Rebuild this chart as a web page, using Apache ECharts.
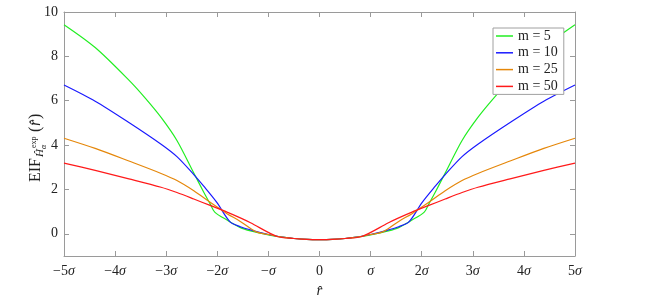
<!DOCTYPE html>
<html>
<head>
<meta charset="utf-8">
<script src="https://cdn.jsdelivr.net/npm/echarts@6/dist/echarts.min.js"></script>
<style>
  html, body { margin: 0; padding: 0; background: #fff; }
  #chart { width: 664px; height: 304px; }
</style>
</head>
<body>
<div id="chart"></div>
<script>
// tick labels
const xTickLabels = ['−5σ', '−4σ', '−3σ', '−2σ', '−σ', '0', 'σ', '2σ', '3σ', '4σ', '5σ']
const yTickValues = [0, 2, 4, 6, 8, 10]
const seriesNames = ['m = 5', 'm = 10', 'm = 25', 'm = 50']

// m = 5
const xM5 = [-5, -4.39, -3.73, -3.41, -3.1, -2.79, -2.46, -2.27, -2.14, -2.05, -1.81, -1.55, -1.35, -1, -0.8, -0.5, -0.25, 0,
  0.25, 0.5, 0.8, 1, 1.35, 1.55, 1.81, 2.05, 2.14, 2.27, 2.46, 2.79, 3.1, 3.41, 3.73, 4.39, 5]
const yM5 = [9.43, 8.40, 6.93, 6.12, 5.25, 4.21, 2.74, 1.90, 1.35, 0.98, 0.62, 0.28, 0.13, -0.05, -0.13, -0.21, -0.25, -0.26,
  -0.25, -0.21, -0.13, -0.05, 0.13, 0.28, 0.62, 0.98, 1.35, 1.90, 2.74, 4.21, 5.25, 6.12, 6.93, 8.40, 9.43]

// m = 10
const xM10 = [-5, -4.39, -3.73, -3.1, -2.79, -2.46, -2.27, -2.01, -1.75, -1.55, -1.35, -1, -0.8, -0.5, -0.25, 0,
  0.25, 0.5, 0.8, 1, 1.35, 1.55, 1.75, 2.01, 2.27, 2.46, 2.79, 3.1, 3.73, 4.39, 5]
const yM10 = [6.71, 5.98, 5.02, 4.04, 3.48, 2.67, 2.16, 1.42, 0.54, 0.32, 0.18, -0.03, -0.12, -0.21, -0.25, -0.26,
  -0.25, -0.21, -0.12, -0.03, 0.18, 0.32, 0.54, 1.42, 2.16, 2.67, 3.48, 4.04, 5.02, 5.98, 6.71]

// m = 25
const xM25 = [-5, -4.39, -3.73, -3.1, -2.79, -2.46, -2.14, -1.81, -1.55, -1.25, -1, -0.8, -0.5, -0.25, 0,
  0.25, 0.5, 0.8, 1, 1.25, 1.55, 1.81, 2.14, 2.46, 2.79, 3.1, 3.73, 4.39, 5]
const yM25 = [4.31, 3.85, 3.28, 2.72, 2.40, 1.94, 1.42, 0.91, 0.56, 0.10, -0.03, -0.12, -0.21, -0.25, -0.26,
  -0.25, -0.21, -0.12, -0.03, 0.10, 0.56, 0.91, 1.42, 1.94, 2.40, 2.72, 3.28, 3.85, 4.31]

// m = 50
const xM50 = [-5, -4.39, -3.73, -3.1, -2.79, -2.46, -2.14, -1.81, -1.55, -1.35, -0.83, -0.5, -0.25, 0,
  0.25, 0.5, 0.83, 1.35, 1.55, 1.81, 2.14, 2.46, 2.79, 3.1, 3.73, 4.39, 5]
const yM50 = [3.19, 2.86, 2.48, 2.10, 1.86, 1.57, 1.28, 0.98, 0.72, 0.50, -0.12, -0.21, -0.25, -0.26,
  -0.25, -0.21, -0.12, 0.50, 0.72, 0.98, 1.28, 1.57, 1.86, 2.10, 2.48, 2.86, 3.19]

const colors = ['#22ee22', '#1a1aff', '#e5870a', '#ff1a1a']
const font = 'Liberation Serif'
const axisGray = '#9a9a9a'

function pairs(xs, ys) {
  return xs.map((x, i) => [x, ys[i]])
}

function xLabel(v) {
  const t = xTickLabels[Math.round(v) + 5]
  if (t === undefined) return ''
  const num = t.replace('σ', '')
  return (num ? '{n|' + num + '}' : '') + (t.indexOf('σ') >= 0 ? '{s|σ}' : '')
}

const chart = echarts.init(document.getElementById('chart'), null, { renderer: 'canvas' })

const baseX = {
  type: 'value',
  min: -5,
  max: 5,
  interval: 1,
  splitLine: { show: false },
  axisLine: { onZero: false, lineStyle: { color: axisGray, width: 1 } },
  axisTick: { inside: true, length: 5, lineStyle: { color: axisGray } }
}
const baseY = {
  type: 'value',
  min: -1,
  max: 10,
  interval: 1,
  splitLine: { show: false },
  axisLine: { show: true, onZero: false, lineStyle: { color: axisGray, width: 1 } },
  axisTick: { show: true, inside: true, length: 5, customValues: yTickValues, lineStyle: { color: axisGray } }
}

const lists = [[xM5, yM5], [xM10, yM10], [xM25, yM25], [xM50, yM50]]

chart.setOption({
  animation: false,
  grid: { left: 64, right: 89, top: 12, bottom: 42 },
  xAxis: [
    Object.assign({}, baseX, {
      position: 'bottom',
      name: 'r\u0302',
      nameLocation: 'middle',
      nameGap: 28,
      nameTextStyle: { fontFamily: font, fontStyle: 'italic', fontSize: 15, color: '#222' },
      axisLabel: {
        margin: 8,
        formatter: xLabel,
        rich: {
          n: { fontFamily: font, fontSize: 14, color: '#222' },
          s: { fontFamily: font, fontSize: 14, fontStyle: 'italic', color: '#222' }
        }
      }
    }),
    Object.assign({}, baseX, { position: 'top', axisLabel: { show: false } })
  ],
  yAxis: [
    Object.assign({}, baseY, {
      position: 'left',
      axisLabel: {
        customValues: yTickValues,
        margin: 6,
        fontFamily: font,
        fontSize: 14,
        color: '#222'
      }
    }),
    Object.assign({}, baseY, { position: 'right', axisLabel: { show: false } })
  ],
  legend: {
    orient: 'vertical',
    left: 493,
    top: 28,
    icon: 'rect',
    itemWidth: 17,
    itemHeight: 1.5,
    itemGap: 2.8,
    padding: [1, 6, 1, 3],
    backgroundColor: '#fff',
    borderColor: '#a0a0a0',
    borderWidth: 1,
    borderRadius: 0,
    textStyle: { fontFamily: font, fontSize: 14, color: '#222', lineHeight: 14 },
    data: seriesNames
  },
  graphic: [{
    type: 'group',
    x: 40,
    y: 145,
    rotation: Math.PI / 2,
    children: [
      { type: 'text', x: -37, y: 4, style: { text: 'EIF', font: '16px "Liberation Serif"', fill: '#222', textVerticalAlign: 'bottom' } },
      { type: 'text', x: -12, y: 6, style: { text: 'Ĥ', font: 'italic 11px "Liberation Serif"', fill: '#222', textVerticalAlign: 'bottom' } },
      { type: 'text', x: -4, y: 8, style: { text: 'α', font: 'italic 8px "Liberation Serif"', fill: '#222', textVerticalAlign: 'bottom' } },
      { type: 'text', x: -3, y: -2, style: { text: 'exp', font: '8px "Liberation Serif"', fill: '#222', textVerticalAlign: 'bottom' } },
      { type: 'text', x: 13, y: 4, style: { text: '(', font: '16px "Liberation Serif"', fill: '#222', textVerticalAlign: 'bottom' } },
      { type: 'text', x: 19, y: 4, style: { text: 'r\u0302', font: 'italic 16px "Liberation Serif"', fill: '#222', textVerticalAlign: 'bottom' } },
      { type: 'text', x: 26, y: 4, style: { text: ')', font: '16px "Liberation Serif"', fill: '#222', textVerticalAlign: 'bottom' } }
    ]
  }],
  series: lists.map((l, i) => ({
    name: seriesNames[i],
    type: 'line',
    data: pairs(l[0], l[1]),
    symbol: 'none',
    smooth: 0.3,
    lineStyle: { color: colors[i], width: 1.2 },
    itemStyle: { color: colors[i] }
  }))
})
</script>
</body>
</html>
